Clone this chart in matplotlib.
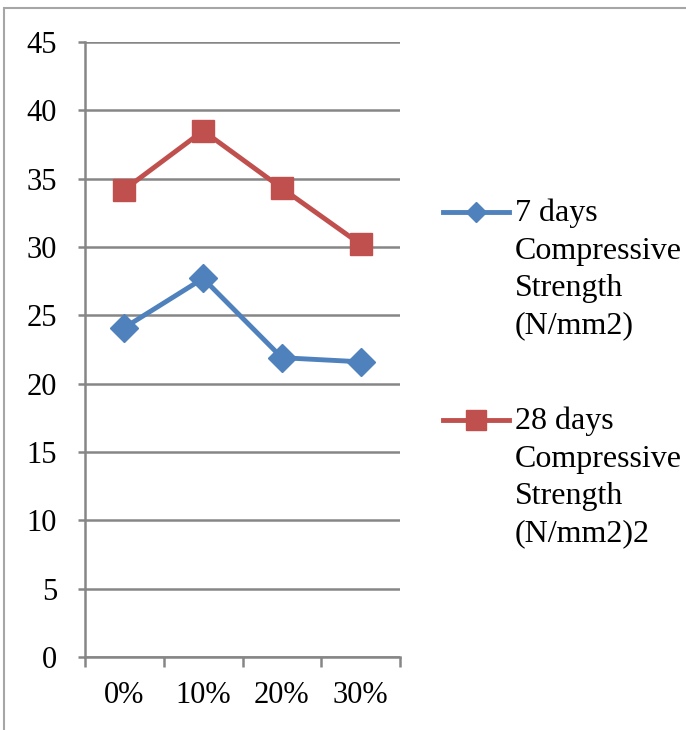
import matplotlib.pyplot as plt
from matplotlib.lines import Line2D
from matplotlib.patches import Rectangle

plt.rcParams['font.family'] = ['Liberation Serif', 'DejaVu Serif']

# replacement levels and strengths (N/mm2)
categories = ['0%', '10%', '20%', '30%']
strength_7d = [24.1, 27.7, 21.9, 21.6]
strength_28d = [34.2, 38.5, 34.3, 30.2]
labels = ['7 days\nCompressive\nStrength\n(N/mm2)',
          '28 days\nCompressive\nStrength\n(N/mm2)2']

blue = '#4F81BD'
red = '#C0504D'
grid_col = '#868686'
W, H = 686, 730

fig = plt.figure(figsize=(W / 100, H / 100), dpi=100)
ax = fig.add_axes([85 / W, 73 / H, 315 / W, 615 / H])

x = list(range(len(categories)))
ax.plot(x, strength_7d, color=blue, lw=3.5, marker='D', ms=14, mec=blue, mfc=blue, zorder=3)
ax.plot(x, strength_28d, color=red, lw=3.5, marker='s', ms=16.5, mec=red, mfc=red, zorder=3)

ax.set_xlim(-0.5, len(categories) - 0.5)
ax.set_ylim(0, 45)
ax.set_yticks(range(0, 46, 5))
ax.yaxis.grid(True, color=grid_col, lw=1.8)
ax.set_axisbelow(True)

# category ticks sit on the boundaries, labels in the middle
ax.set_xticks([i - 0.5 for i in range(len(categories) + 1)])
ax.set_xticklabels([])
ax.set_xticks(x, minor=True)
ax.set_xticklabels(categories, minor=True)
ax.tick_params(axis='x', which='major', length=7, width=1.8, color=grid_col)
ax.tick_params(axis='x', which='minor', length=0, pad=17, labelsize=22)
ax.tick_params(axis='y', length=5, width=1.8, color=grid_col, pad=15, labelsize=22)

for s in ['top', 'right']:
    ax.spines[s].set_visible(False)
for s in ['left', 'bottom']:
    ax.spines[s].set_color(grid_col)
    ax.spines[s].set_linewidth(1.8)

# legend drawn by hand so the marker sits beside the first line of text
for col, mk, ms, y, lab in [(blue, 'D', 10, 212, labels[0]), (red, 's', 15, 420, labels[1])]:
    fy = 1 - y / H
    fig.add_artist(Line2D([443 / W, 509 / W], [fy, fy], color=col, lw=3.5,
                          transform=fig.transFigure))
    fig.add_artist(Line2D([476 / W], [fy], color=col, marker=mk, ms=ms, mec=col, mfc=col,
                          transform=fig.transFigure))
    fig.text(515 / W, 1 - (y - 13) / H, lab, fontsize=23, va='top', ha='left',
             linespacing=1.37)

# chart area frame
fig.add_artist(Rectangle((4 / W, -0.1), 1.2, 1 - 8 / H + 0.1, fill=False,
                         ec='#A6A6A6', lw=1.5, transform=fig.transFigure))

fig.savefig('out.png', dpi=100)
